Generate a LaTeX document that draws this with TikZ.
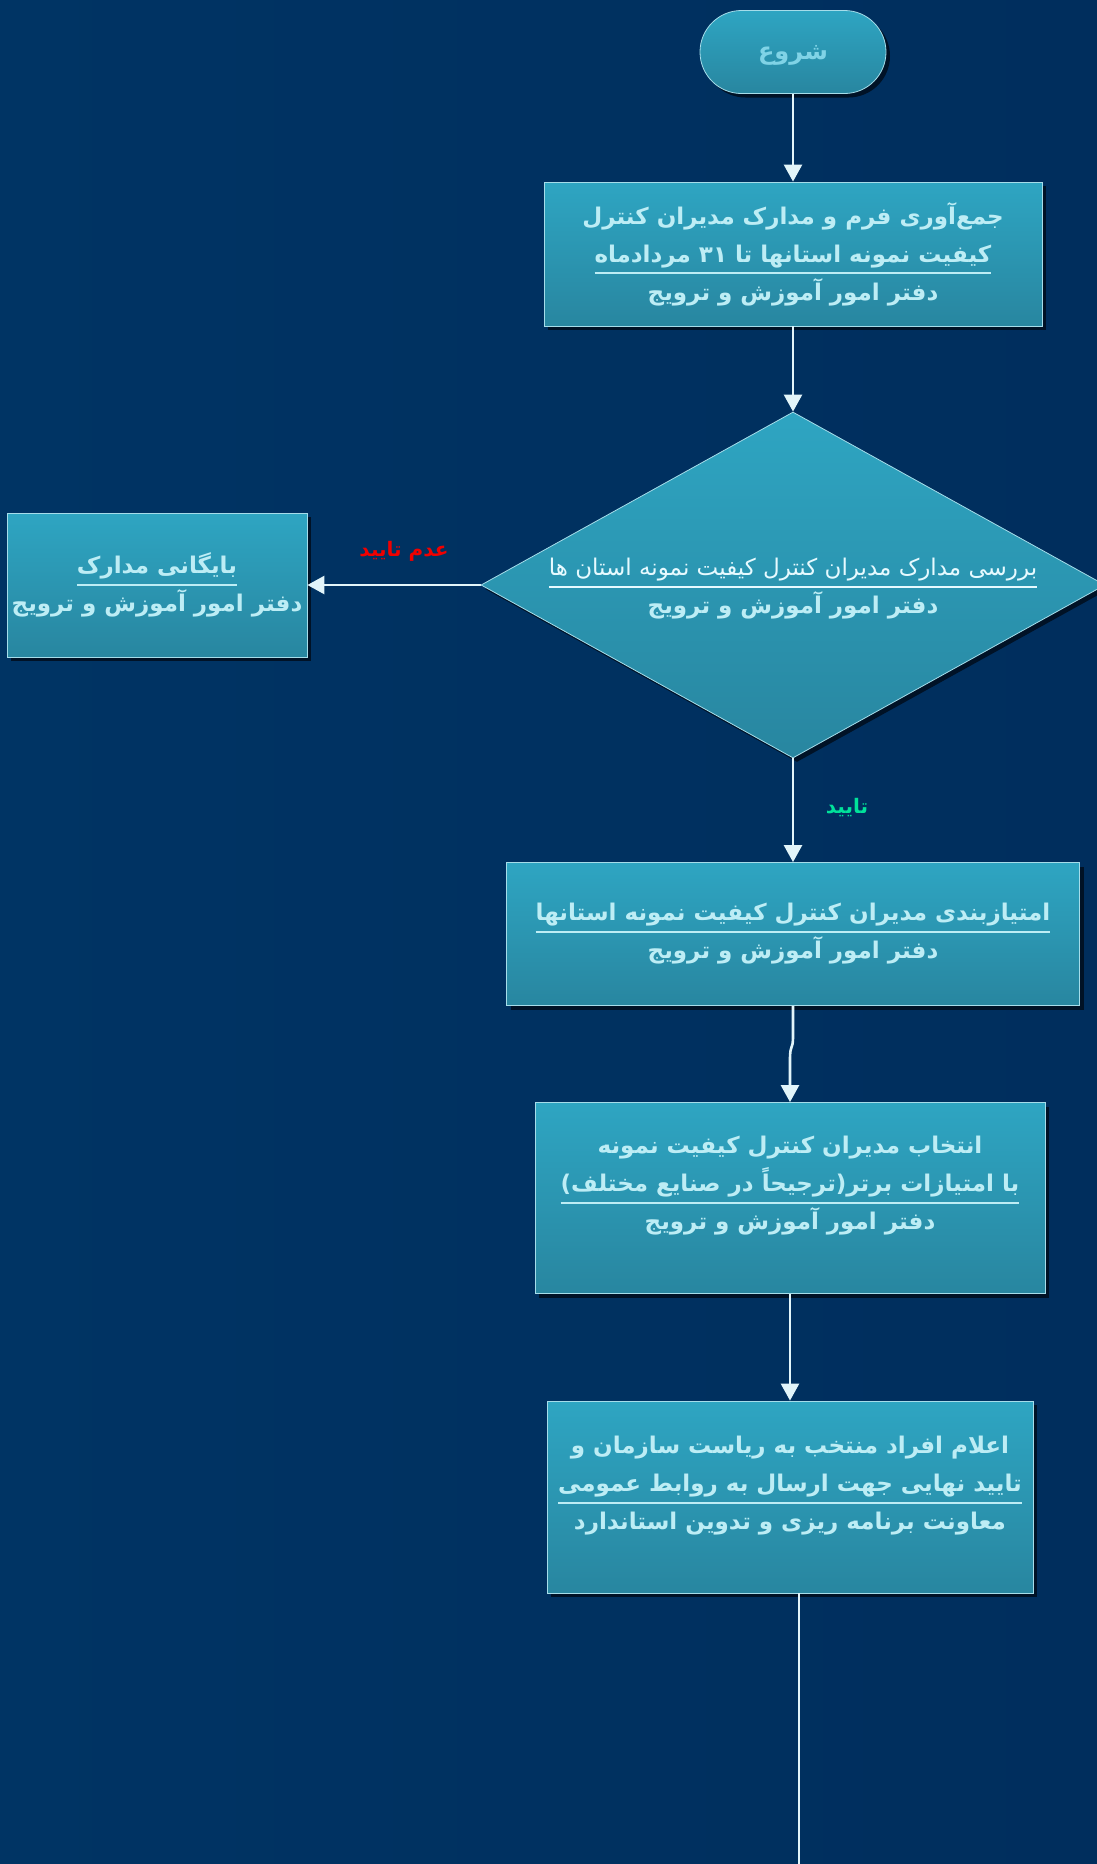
\documentclass[tikz,border=0pt]{standalone}
\usepackage{fontspec}
\newfontfamily\fa[Script=Arabic]{DejaVu Sans}
\TeXXeTstate=1
\usetikzlibrary{shapes.geometric,shapes.misc,arrows.meta,shadows,shadings}
\definecolor{bgA}{HTML}{003464}
\definecolor{bgM}{HTML}{002C59}
\definecolor{bgB}{HTML}{002E5D}
\definecolor{boxtop}{HTML}{2EA5C2}
\definecolor{boxbot}{HTML}{2886A0}
\definecolor{boxedge}{HTML}{A6DDEA}
\definecolor{txt}{HTML}{BDEDF5}
\definecolor{dtxt}{HTML}{E6FAFF}
\definecolor{starttxt}{HTML}{80D3E6}
\definecolor{shadowc}{HTML}{001226}
\definecolor{linec}{HTML}{E2F5FA}
\definecolor{nored}{HTML}{F00000}
\definecolor{okgreen}{HTML}{00E29A}
\newcommand\myul[1]{\setbox0=\hbox{#1}\dp0=0pt\vtop{\copy0\kern 10pt\hrule height 2pt width \wd0}}
\newcommand\rl[1]{\beginR #1\endR}
\begin{document}
\begin{tikzpicture}[x=1pt,y=-1pt,
  procbox/.style={draw=boxedge, line width=0.8pt, top color=boxtop, bottom color=boxbot,
    drop shadow={shadow xshift=4pt, shadow yshift=-4pt, fill=shadowc, opacity=1}, inner sep=0pt},
  lbl/.style={font={\fontsize{23}{38}\fa\bfseries}, text=txt, align=center},
  conn/.style={draw=linec, line width=2.6pt, -{Triangle[width=18pt,length=17pt]}},
  plain/.style={draw=linec, line width=2.6pt}]
\useasboundingbox (0,0) rectangle (1097,1864);
\shade[left color=bgA, middle color=bgM, right color=bgB] (0,0) rectangle (1097,1864);

\node[procbox, rounded rectangle, minimum width=186pt, minimum height=83pt,
  font={\fontsize{24}{38}\fa\bfseries}, text=starttxt] (start) at (793,52) {\raisebox{-7pt}[0pt][0pt]{\rl{شروع}}};

\node[procbox, lbl, minimum width=498pt, minimum height=144pt] (box1) at (793,254)
  {\rl{جمع‌آوری فرم و مدارک مدیران کنترل}\\
   \myul{\rl{کیفیت نمونه استانها تا \beginL۳۱\endL{} مردادماه}}\\
   \rl{دفتر امور آموزش و ترویج}};

\node[procbox, diamond, minimum width=624pt, minimum height=346pt] (check) at (793,585) {};
\node[lbl] (checkt) at (793,589)
  {{\color{dtxt}\mdseries\myul{\rl{بررسی مدارک مدیران کنترل کیفیت نمونه استان ها}}}\\
   \rl{دفتر امور آموزش و ترویج}};

\node[procbox, lbl, minimum width=300pt, minimum height=144pt] (archive) at (157,585)
  {\myul{\rl{بایگانی مدارک}}\\
   \rl{دفتر امور آموزش و ترویج}};

\node[procbox, lbl, minimum width=573pt, minimum height=143pt] (box3) at (793,934)
  {\myul{\rl{امتیازبندی مدیران کنترل کیفیت نمونه استانها}}\\
   \rl{دفتر امور آموزش و ترویج}};

\node[procbox, minimum width=510pt, minimum height=191pt] (box4) at (790,1198) {};
\node[lbl] (box4t) at (790,1186)
  {\rl{انتخاب مدیران کنترل کیفیت نمونه}\\
   \myul{\rl{با امتیازات برتر(ترجیحاً در صنایع مختلف)}}\\
   \rl{دفتر امور آموزش و ترویج}};

\node[procbox, minimum width=486pt, minimum height=192pt] (box5) at (790,1497) {};
\node[lbl] (box5t) at (790,1486)
  {\rl{اعلام افراد منتخب به ریاست سازمان و}\\
   \myul{\rl{تایید نهایی جهت ارسال به روابط عمومی}}\\
   \rl{معاونت برنامه ریزی و تدوین استاندارد}};

\node[font={\fontsize{20}{24}\fa\bfseries}, text=nored] (nolbl) at (404,551) {\rl{عدم تایید}};
\node[font={\fontsize{20}{24}\fa\bfseries}, text=okgreen] (oklbl) at (847,808) {\rl{تایید}};

\coordinate (bottomend) at (799,1864);

\draw[conn] (start.south) -- (box1.north);
\draw[conn] (box1.south) -- (check.north);
\draw[conn] (check.west) -- (archive.east);
\draw[conn] (check.south) -- (box3.north);
\draw[conn] (box3.south) -- ++(0,30) .. controls +(0,16) and ([yshift=60pt]box4.north) .. ([yshift=42pt]box4.north) -- (box4.north);
\draw[conn] (box4.south) -- (box5.north);
\draw[plain] (box5.south -| bottomend) -- (bottomend);
\end{tikzpicture}
\end{document}
